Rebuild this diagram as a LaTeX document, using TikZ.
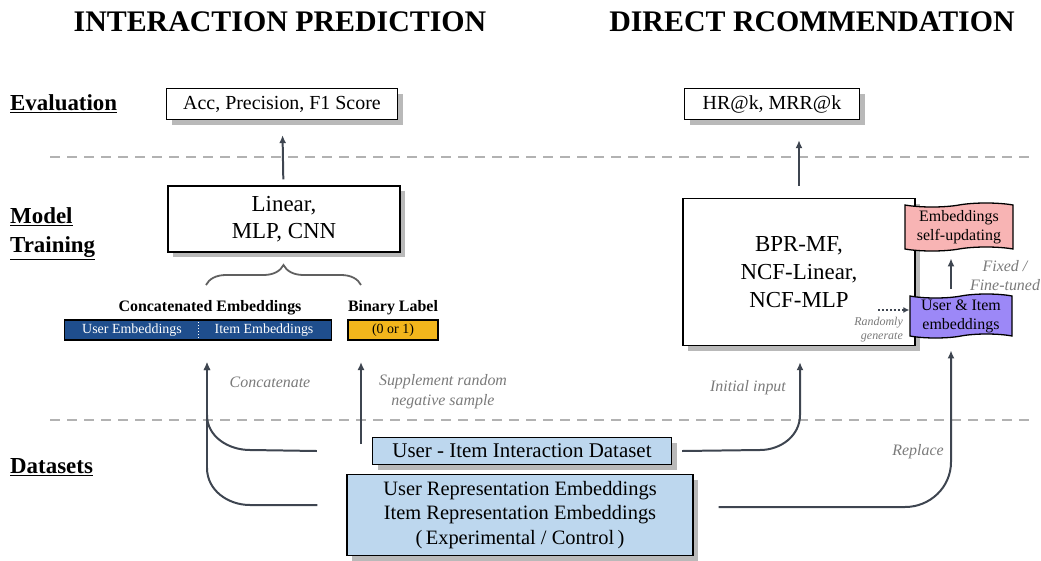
\documentclass[tikz,border=0pt]{standalone}
\usepackage{fontspec}
\setmainfont{Liberation Serif}
\usetikzlibrary{arrows.meta,shapes.symbols,shadows,decorations.pathreplacing}
\definecolor{linec}{HTML}{3E4550}
\definecolor{lblc}{HTML}{7A7A7A}
\definecolor{barblue}{HTML}{1F4E8D}
\definecolor{labyellow}{HTML}{F2B61C}
\definecolor{datablue}{HTML}{BDD7EE}
\definecolor{pinkc}{HTML}{F8B4B4}
\definecolor{purplec}{HTML}{9C88F7}
\tikzset{
  box/.style={draw,line width=1.3pt,fill=white,align=center,inner sep=0pt,
    drop shadow={shadow xshift=5bp,shadow yshift=-5bp,fill=gray!55,opacity=1}},
  wavybox/.style={draw,line width=1.3pt,tape,tape bend height=4bp,align=center,inner sep=0pt,
    font=\fontsize{16}{19}\selectfont},
  flow/.style={-{Latex[length=8bp,width=7bp]},line width=2pt,color=linec},
  note/.style={font=\fontsize{16}{20}\selectfont\itshape,color=lblc,align=center},
  sect/.style={anchor=west,align=left,inner sep=0pt,font=\fontsize{23}{29}\selectfont\bfseries},
  sep/.style={line width=1.5pt,color=gray!60,dash pattern=on 10bp off 7bp}
}
\begin{document}
\begin{tikzpicture}
\useasboundingbox (0bp,0bp) rectangle (1041bp,-561bp);

\node (TitleL) at (280bp,-22bp)[font=\fontsize{30}{33}\selectfont\bfseries] {INTERACTION PREDICTION};
\node (TitleR) at (812bp,-22bp)[font=\fontsize{30}{33}\selectfont\bfseries] {DIRECT RCOMMENDATION};

\node (SecEval) at (10bp,-104bp)[sect] {\underline{Evaluation}};
\node (SecModel) at (10bp,-234bp)[sect] {\underline{Model}\\\underline{Training}};
\node (SecData) at (10bp,-467bp)[sect] {\underline{Datasets}};

\draw [sep] (50bp,-157bp) -- (1030bp,-157bp);
\draw [sep] (50bp,-420bp) -- (1030bp,-420bp);

% interaction prediction
\node (EvalL) at (282bp,-104bp)[box,minimum width=231bp,minimum height=31bp,font=\fontsize{20}{23}\selectfont] {Acc, Precision, F1 Score};
\node (Lin) at (284bp,-219bp)[box,minimum width=232bp,minimum height=66bp,font=\fontsize{23}{27}\selectfont] {Linear,\\MLP, CNN};
\draw [flow,shorten <=6bp,shorten >=15bp] (Lin) -- (EvalL);
\draw [decorate,decoration={brace,amplitude=20bp},line width=1.8pt,color=gray!75!black] (206bp,-285bp) -- (361bp,-285bp);

\node (CatTxt) at (210bp,-308bp)[font=\fontsize{16}{18}\selectfont\bfseries] {Concatenated Embeddings};
\node (LabTxt) at (393bp,-308bp)[font=\fontsize{16}{18}\selectfont\bfseries] {Binary Label};
\node (CatBar) at (198bp,-330bp)[draw,line width=1.3pt,fill=barblue,minimum width=267bp,minimum height=20bp] {};
\node (UserEmb) at (132bp,-330bp)[text=white,font=\fontsize{14}{16}\selectfont] {User Embeddings};
\node (ItemEmb) at (264bp,-330bp)[text=white,font=\fontsize{14}{16}\selectfont] {Item Embeddings};
\draw [white,dotted,line width=1pt] ([yshift=-3bp]CatBar.north) -- ([yshift=3bp]CatBar.south);
\node (BinLab) at (393bp,-330bp)[draw,line width=1.3pt,fill=labyellow,minimum width=90bp,minimum height=20bp,font=\fontsize{14}{16}\selectfont] {(0 or 1)};

% datasets
\node (UIData) at (522bp,-451bp)[box,fill=datablue,minimum width=299bp,minimum height=27bp,font=\fontsize{21}{24}\selectfont] {User - Item Interaction Dataset};
\node (Rep) at (520bp,-515bp)[box,fill=datablue,minimum width=346bp,minimum height=81bp,font=\fontsize{20.5}{24.5}\selectfont] {User Representation Embeddings\\Item Representation Embeddings\\(\,Experimental / Control\,)};

\coordinate (CatIn) at (207bp,-362bp);
\coordinate (NegS) at (361bp,-444bp);
\draw [flow] ([xshift=-55bp]UIData.west) -- (250bp,-450bp) to[out=180,in=-90] (207bp,-415bp) -- (CatIn);
\draw [flow] ([xshift=-29bp,yshift=10bp]Rep.west) -- (250bp,-505bp) to[out=180,in=-90] (207bp,-468bp) -- (CatIn);
\draw [flow] (NegS) -- (NegS |- CatIn);
\node (NCat) at (270bp,-382bp)[note] {Concatenate};
\node (NNeg) at (443bp,-392bp)[note] {Supplement random\\negative sample};

% direct recommendation
\node (EvalR) at (772bp,-104bp)[box,minimum width=175bp,minimum height=31bp,font=\fontsize{20}{23}\selectfont] {HR@k, MRR@k};
\node (Model) at (799bp,-272bp)[box,minimum width=232bp,minimum height=147bp,font=\fontsize{23}{28}\selectfont] {BPR-MF,\\NCF-Linear,\\NCF-MLP};
\draw [flow,shorten <=12bp,shorten >=20bp] (Model) -- (EvalR.south -| Model.north);
\node (Pink) at (959bp,-227bp)[wavybox,fill=pinkc,minimum width=108bp,minimum height=48bp] {Embeddings\\self-updating};
\node (Pur) at (961bp,-316bp)[wavybox,fill=purplec,minimum width=102bp,minimum height=44bp] {User \& Item\\embeddings};
\draw [flow,shorten <=7bp,shorten >=9bp] (Pur.north -| 951bp,0) -- (Pink.south -| 951bp,0);
\node (NFix) at (1005bp,-276bp)[note,font=\fontsize{16}{19}\selectfont\itshape] {Fixed /\\Fine-tuned};
\coordinate (RandG) at (878bp,-310bp);
\draw [-{Latex[length=6bp,width=6bp]},dotted,line width=2pt,color=linec] (RandG) -- (RandG -| Pur.west);
\node (NRand) at (903bp,-330bp)[note,anchor=east,align=right,inner sep=0pt,font=\fontsize{12}{14}\selectfont\itshape] {Randomly\\generate};

\draw [flow,shorten >=16bp] ([xshift=10bp]UIData.east) -- (760bp,-450bp) to[out=0,in=-90] (800bp,-415bp) -- (Model.south -| 800bp,0);
\draw [flow,shorten >=14bp] ([xshift=25bp,yshift=8bp]Rep.east) -- (905bp,-507bp) to[out=0,in=-90] (951bp,-462bp) -- (Pur.south -| 951bp,0);
\node (NInit) at (748bp,-388bp)[note] {Initial input};
\node (NRep) at (918bp,-452bp)[note] {Replace};
\end{tikzpicture}
\end{document}
